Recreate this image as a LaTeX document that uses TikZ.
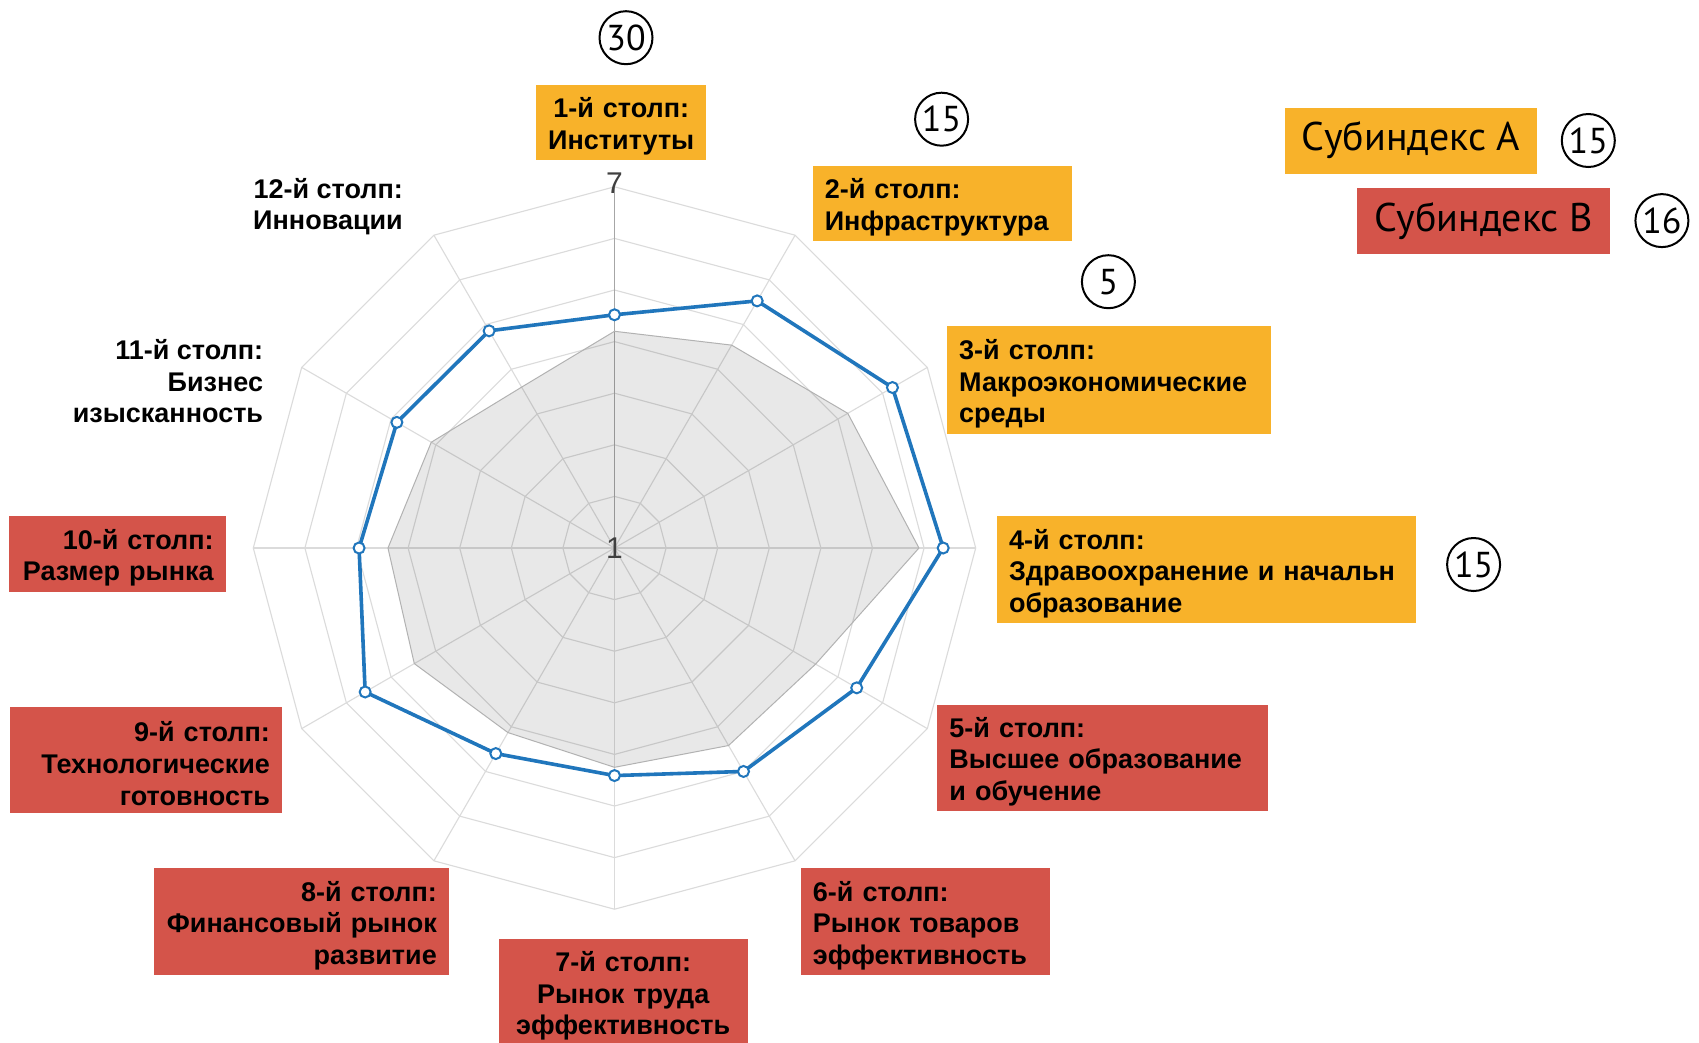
\documentclass[tikz,border=0pt]{standalone}
\usepackage{fontspec}
\setmainfont{Liberation Sans}
\newfontfamily\subfont{PT Sans}
\usepackage{xcolor}
\usepackage{tikz}
\usetikzlibrary{positioning}

\definecolor{pillarA}{RGB}{248,178,42}
\definecolor{pillarB}{RGB}{212,84,74}
\definecolor{scoreline}{RGB}{32,118,188}
\newcommand{\ringstep}{51.6}

\begin{document}
\begin{tikzpicture}[x=1pt, y=-1pt,
    pillar/.style={font=\bfseries\fontsize{27}{31.6}\selectfont, inner xsep=12pt, inner ysep=0pt, anchor=north west},
    boxed/.style={pillar, execute at begin node={\rule{0pt}{28pt}}},
    groupA/.style={boxed, fill=pillarA},
    groupB/.style={boxed, fill=pillarB},
    rank/.style={draw, circle, line width=2pt, minimum size=53pt, inner sep=0pt, font=\subfont\fontsize{36}{36}\selectfont},
    subindex/.style={font=\subfont\fontsize{40}{40}\selectfont, inner sep=0pt, minimum height=66pt, anchor=north west},
    gridline/.style={draw=black!14, line width=1.1pt},
    tick/.style={font=\fontsize{30}{30}\selectfont, text=black!75, inner sep=0pt},
    marker/.style={circle, draw=scoreline, fill=white, line width=2pt, minimum size=11pt, inner sep=0pt}
]
    \path[use as bounding box, fill=white] (0,0) rectangle (1699,1042);

    \begin{scope}[shift={(614.5,548)}]
        \foreach \k in {1,...,7}
            \draw[gridline] (-90:\k*\ringstep) \foreach \a in {-60,-30,...,240} {-- (\a:\k*\ringstep)} -- cycle;
        \foreach \a in {-60,-30,...,240}
            \draw[gridline] (0,0) -- (\a:7*\ringstep);
        \draw[gridline, draw=black!35] (0,0) -- (-90:7*\ringstep);

        \foreach \v [count=\i] in {4.2,4.54,5.22,5.9,4.5,4.42,4.25,4.13,4.48,4.39,4.1,3.6}
            \coordinate (g\i) at ({-120+30*\i}:\v*\ringstep);
        \draw[draw=black!30, line width=1pt, fill=black, fill opacity=0.09] (g1) \foreach \i in {2,...,12} {-- (g\i)} -- cycle;

        \foreach \v [count=\i] in {4.52,5.53,6.22,6.37,5.42,5.0,4.41,4.6,5.58,4.95,4.87,4.86}
            \coordinate (s\i) at ({-120+30*\i}:\v*\ringstep);
        \draw[scoreline, line width=3.6pt, line join=round] (s1) \foreach \i in {2,...,12} {-- (s\i)} -- cycle;
        \foreach \i in {1,...,12}
            \node[marker] (m\i) at (s\i) {};

        \node[tick] (top) at (0,-365) {7};
        \node[tick] (mid) at (0,0) {1};
    \end{scope}

    \node[groupA, text width=146pt, minimum height=75.5pt, align=center] (p1) at (536,84.5) {1-й столп:\\Институты};
    \node[groupA, text width=235pt, minimum height=74.7pt, align=left] (p2) at (812.6,165.8) {2-й столп:\\Инфраструктура};
    \node[groupA, text width=300pt, minimum height=107.4pt, align=left] (p3) at (947,326) {3-й столп:\\Макроэкономические\\среды};
    \node[groupA, text width=395pt, minimum height=107.3pt, align=left] (p4) at (996.8,515.7) {4-й столп:\\\mbox{Здравоохранение и начальн}\\образование};
    \node[groupB, text width=306.5pt, minimum height=106.1pt, align=left] (p5) at (937.2,704.3) {5-й столп:\\\mbox{Высшее образование}\\\mbox{и обучение}};
    \node[groupB, text width=225.2pt, minimum height=107.3pt, align=left] (p6) at (800.7,867.9) {6-й столп:\\\mbox{Рынок товаров}\\эффективность};
    \node[groupB, text width=225.2pt, minimum height=107.3pt, align=center] (p7) at (498.4,938.3) {7-й столп:\\\mbox{Рынок труда}\\эффективность};
    \node[groupB, text width=270.7pt, minimum height=107.3pt, align=right] (p8) at (153.9,867.9) {8-й столп:\\\mbox{Финансовый рынок}\\развитие};
    \node[groupB, text width=247.9pt, minimum height=106.2pt, align=right] (p9) at (9.8,706.4) {9-й столп:\\Технологические\\готовность};
    \node[groupB, text width=192.7pt, minimum height=75.9pt, align=right] (p10) at (8.7,515.7) {10-й столп:\\\mbox{Размер рынка}};
    \node[pillar, anchor=east, align=right] (p11) at (275.3,381.4) {11-й столп:\\Бизнес\\изысканность};
    \node[pillar, anchor=east, align=right] (p12) at (415,206.8) {12-й столп:\\Инновации};

    \node[subindex, fill=pillarA, minimum width=251.4pt] (suba) at (1285,107.3) {Субиндекс A};
    \node[subindex, fill=pillarB, minimum width=253.4pt] (subb) at (1356.6,187.4) {Субиндекс B};

    \node[rank] (r1) at (626,37.7) {30};
    \node[rank] (r2) at (941.6,119.2) {15};
    \node[rank] (r3) at (1108.4,281.7) {5};
    \node[rank] (r4) at (1473.6,564.5) {15};
    \node[rank, right=24pt of suba] (ra) {15};
    \node[rank, right=24pt of subb] (rb) {16};
\end{tikzpicture}
\end{document}
